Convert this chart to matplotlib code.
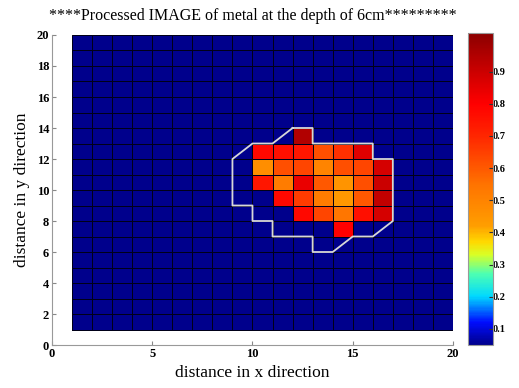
"""
Processed image of metal at 6 cm depth: pcolor grid with the outline drawn on top.
"""

import numpy as np
import matplotlib
matplotlib.use("Agg")
import matplotlib.pyplot as plt
from matplotlib.colors import LinearSegmentedColormap

# ── DATA ──────────────────────────────────────────────────────────────────────
GRID_X      = np.arange(1, 21)          # pcolor nodes along x
GRID_Y      = np.arange(1, 21)          # pcolor nodes along y
BACKGROUND  = 0.05                      # value of the empty (blue) cells

# cell lower-left corner (x, y) → processed value
CELL_X = [12,
          10, 11, 12, 13, 14, 15,
          10, 11, 12, 13, 14, 15, 16,
          10, 11, 12, 13, 14, 15, 16,
          11, 12, 13, 14, 15, 16,
          12, 13, 14, 15, 16,
          14]
CELL_Y = [13,
          12, 12, 12, 12, 12, 12,
          11, 11, 11, 11, 11, 11, 11,
          10, 10, 10, 10, 10, 10, 10,
          9, 9, 9, 9, 9, 9,
          8, 8, 8, 8, 8,
          7]
CELL_V = [0.95,
          0.78, 0.76, 0.74, 0.62, 0.68, 0.86,
          0.47, 0.62, 0.64, 0.50, 0.62, 0.64, 0.88,
          0.74, 0.52, 0.84, 0.60, 0.45, 0.62, 0.90,
          0.78, 0.66, 0.52, 0.44, 0.60, 0.92,
          0.78, 0.64, 0.54, 0.76, 0.88,
          0.80]

# outline of the metal object
OUTLINE_X = [12, 13, 13, 16, 16, 17, 17, 16, 15, 14, 13, 13, 11, 11, 10, 10, 9, 9, 10, 11, 12]
OUTLINE_Y = [14, 14, 13, 13, 12, 12, 8, 7, 7, 6, 6, 7, 7, 8, 8, 9, 9, 12, 13, 13, 14]

AXIS_TICKS = [0, 5, 10, 15, 20]
Y_TICKS    = [0, 2, 4, 6, 8, 10, 12, 14, 16, 18, 20]
CBAR_TICKS = [0.1, 0.2, 0.3, 0.4, 0.5, 0.6, 0.7, 0.8, 0.9]
CLIM       = (0.05, 1.02)
# ─────────────────────────────────────────────────────────────────────────────

# jet-like map with the warm end stretched, as in the original colour bar
stops = [
    (0.05, (0.00, 0.00, 0.55)),
    (0.12, (0.00, 0.05, 1.00)),
    (0.20, (0.00, 0.85, 1.00)),
    (0.27, (0.30, 1.00, 0.70)),
    (0.33, (0.85, 1.00, 0.15)),
    (0.37, (1.00, 0.85, 0.00)),
    (0.42, (1.00, 0.62, 0.00)),
    (0.55, (1.00, 0.45, 0.00)),
    (0.70, (1.00, 0.15, 0.00)),
    (0.80, (1.00, 0.00, 0.00)),
    (0.90, (0.80, 0.00, 0.00)),
    (1.02, (0.55, 0.00, 0.00)),
]
lo, hi = CLIM
cmap = LinearSegmentedColormap.from_list(
    "metal", [((v - lo) / (hi - lo), c) for v, c in stops])

C = np.full((len(GRID_Y) - 1, len(GRID_X) - 1), BACKGROUND)
for x, y, v in zip(CELL_X, CELL_Y, CELL_V):
    C[y - 1, x - 1] = v

plt.rcParams["font.family"] = ["Liberation Serif", "DejaVu Serif"]

fig = plt.figure(figsize=(5.19, 3.88), dpi=100)
ax  = fig.add_axes([0.1002, 0.1108, 0.7726, 0.799])
cax = fig.add_axes([0.9017, 0.1108, 0.0482, 0.804])

mesh = ax.pcolormesh(GRID_X, GRID_Y, C, cmap=cmap, vmin=lo, vmax=hi,
                     edgecolors="#000018", linewidth=0.72, antialiased=True,
                     snap=True)
ax.plot(OUTLINE_X, OUTLINE_Y, color="#d8d8d8", linewidth=1.3)

ax.set_xlim(0, 20)
ax.set_ylim(0, 20)
ax.set_xticks(AXIS_TICKS)
ax.set_yticks(Y_TICKS)
ax.tick_params(direction="in", length=3, labelsize=9, color="#888888", pad=2)
for side in ("top", "right"):
    ax.spines[side].set_visible(False)
for side in ("left", "bottom"):
    ax.spines[side].set_color("#999999")
for lab in ax.get_xticklabels() + ax.get_yticklabels():
    lab.set_fontweight("bold")

ax.set_title("****Processed IMAGE of metal at the depth of 6cm*********",
             fontsize=11.5, pad=11)
ax.set_xlabel("distance in x direction", fontsize=12.5, labelpad=4)
ax.set_ylabel("distance in y direction", fontsize=12.5, labelpad=5)

cb = fig.colorbar(mesh, cax=cax, ticks=CBAR_TICKS)
cb.outline.set_edgecolor("#999999")
cax.tick_params(direction="in", length=3, labelsize=7.5, pad=0, color="#333333")
for lab in cax.get_yticklabels():
    lab.set_fontweight("bold")

fig.savefig("out.png", dpi=100)
